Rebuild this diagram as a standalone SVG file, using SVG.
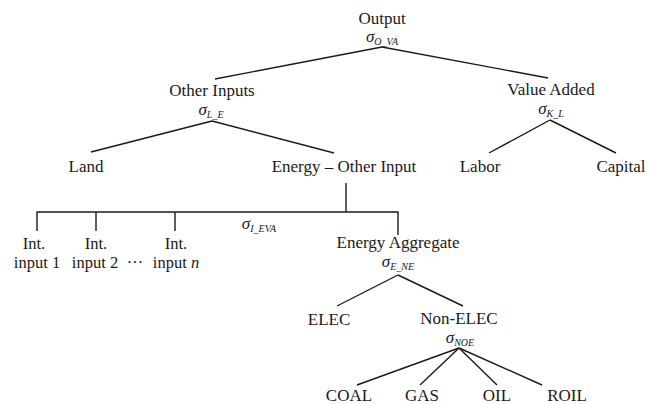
<svg xmlns="http://www.w3.org/2000/svg" width="649" height="404" viewBox="0 0 649 404">
<style>
.t{font-family:"Liberation Serif",serif;font-size:17px;fill:#1a1a1a;text-anchor:middle}
.i{font-size:16.5px}
.s{font-family:"Liberation Serif",serif;font-size:17px;font-style:italic;fill:#1a1a1a;text-anchor:middle}
.sub{font-size:10px}
.c line{stroke:#1a1a1a;stroke-width:1.4;fill:none}
</style>
<rect width="649" height="404" fill="#fff"/>
<g class="c" id="connectors">
<line x1="382" y1="47" x2="215" y2="79"/>
<line x1="382" y1="47" x2="548" y2="78"/>
<line x1="212" y1="121" x2="91" y2="152"/>
<line x1="212" y1="121" x2="334" y2="153"/>
<line x1="550" y1="120" x2="489" y2="153"/>
<line x1="550" y1="120" x2="616" y2="153"/>
<line x1="346" y1="183" x2="346" y2="212"/>
<line x1="36.5" y1="212" x2="398.5" y2="212"/>
<line x1="37" y1="212" x2="37" y2="231"/>
<line x1="96" y1="212" x2="96" y2="231"/>
<line x1="175" y1="212" x2="175" y2="231"/>
<line x1="398" y1="212" x2="398" y2="235"/>
<line x1="398" y1="275" x2="337" y2="306"/>
<line x1="398" y1="275" x2="463" y2="306"/>
<line x1="459" y1="348" x2="357" y2="385"/>
<line x1="459" y1="348" x2="420" y2="385"/>
<line x1="459" y1="348" x2="497" y2="385"/>
<line x1="459" y1="348" x2="542" y2="385"/>
</g>
<g id="output"><text class="t" x="382" y="24">Output</text><text class="s" x="382" y="42">σ<tspan class="sub" dy="3">O_VA</tspan></text></g>
<g id="other-inputs"><text class="t" x="212" y="96">Other Inputs</text><text class="s" x="211" y="115">σ<tspan class="sub" dy="3">L_E</tspan></text></g>
<g id="value-added"><text class="t" x="551" y="95">Value Added</text><text class="s" x="551" y="114">σ<tspan class="sub" dy="3">K_L</tspan></text></g>
<g id="land"><text class="t" x="86" y="172">Land</text></g>
<g id="energy-other"><text class="t" x="344" y="172">Energy – Other Input</text></g>
<g id="labor"><text class="t" x="480" y="172">Labor</text></g>
<g id="capital"><text class="t" x="621" y="172">Capital</text></g>
<g id="sigma-ieva"><text class="s" x="259" y="229">σ<tspan class="sub" dy="3">I_EVA</tspan></text></g>
<g id="int1"><text class="t i" x="34" y="249">Int.</text><text class="t i" x="37" y="268">input 1</text></g>
<g id="int2"><text class="t i" x="96" y="249">Int.</text><text class="t i" x="95" y="268">input 2</text></g>
<g id="dots"><text class="t i" x="135" y="268">···</text></g>
<g id="intn"><text class="t i" x="176" y="249">Int.</text><text class="t i" x="176" y="268">input <tspan font-style="italic">n</tspan></text></g>
<g id="energy-aggregate"><text class="t" x="398" y="248">Energy Aggregate</text><text class="s" x="398" y="267">σ<tspan class="sub" dy="3">E_NE</tspan></text></g>
<g id="elec"><text class="t" x="329" y="325">ELEC</text></g>
<g id="non-elec"><text class="t" x="459" y="324">Non-ELEC</text><text class="s" x="460" y="343">σ<tspan class="sub" dy="3">NOE</tspan></text></g>
<g id="coal"><text class="t" x="349" y="401">COAL</text></g>
<g id="gas"><text class="t" x="422" y="401">GAS</text></g>
<g id="oil"><text class="t" x="497" y="401">OIL</text></g>
<g id="roil"><text class="t" x="567" y="401">ROIL</text></g>
</svg>
